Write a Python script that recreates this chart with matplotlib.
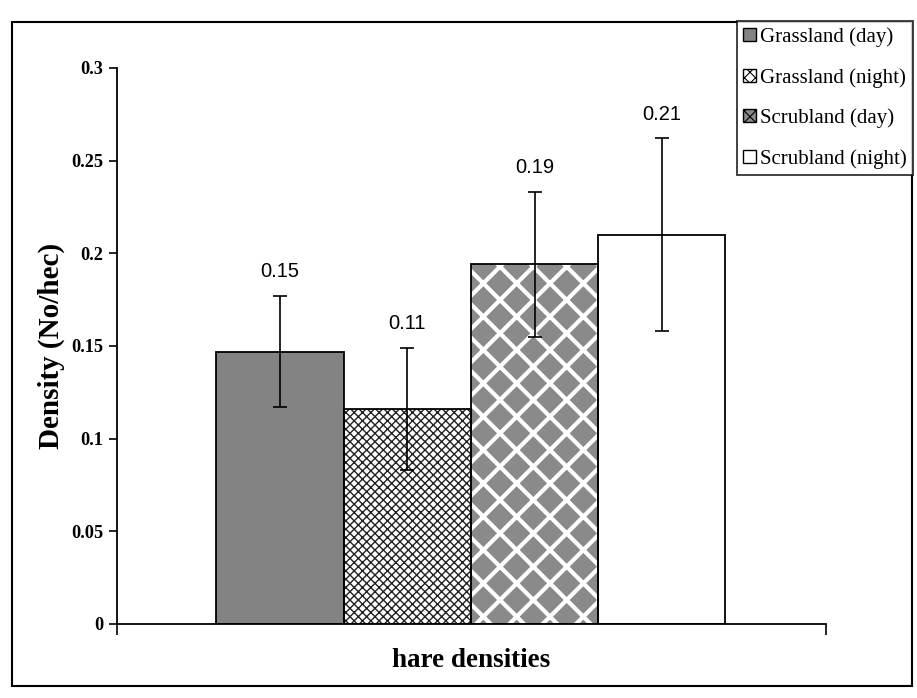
import matplotlib
matplotlib.use('Agg')
import matplotlib.pyplot as plt
from matplotlib.patches import Rectangle

series = ['Grassland (day)', 'Grassland (night)', 'Scrubland (day)', 'Scrubland (night)']
density = [0.147, 0.116, 0.194, 0.21]
errors = [0.030, 0.033, 0.039, 0.052]
value_labels = ['0.15', '0.11', '0.19', '0.21']
yticks = [0, 0.05, 0.1, 0.15, 0.2, 0.25, 0.3]
ytick_labels = ['0', '0.05', '0.1', '0.15', '0.2', '0.25', '0.3']

W, H = 917, 698
fig = plt.figure(figsize=(W / 100, H / 100), dpi=100)
ax = fig.add_axes([117 / W, 1 - 624 / H, (826 - 117) / W, (624 - 68) / H])

pos = list(range(len(series)))
styles = [
    dict(color='#838383', hatch=None, hcolor=None, lw=1.0),
    dict(color='white', hatch='xxxx', hcolor='#222222', lw=1.0),
    dict(color='#8a8a8a', hatch='x', hcolor='white', lw=3.0),
    dict(color='white', hatch=None, hcolor=None, lw=1.0),
]

for p, v, s in zip(pos, density, styles):
    plt.rcParams['hatch.linewidth'] = s['lw']
    if s['hatch']:
        ax.bar(p, v, width=1.0, color=s['color'], edgecolor=s['hcolor'],
               hatch=s['hatch'], linewidth=0, zorder=2)
    else:
        ax.bar(p, v, width=1.0, color=s['color'], linewidth=0, zorder=2)
    ax.bar(p, v, width=1.0, fill=False, edgecolor='black', linewidth=1.3, zorder=3)

ax.errorbar(pos, density, yerr=errors, fmt='none', ecolor='black',
            elinewidth=1.2, capsize=5, capthick=1.2, zorder=4)

for p, v, e, lab in zip(pos, density, errors, value_labels):
    ax.text(p, v + e + 0.008, lab, ha='center', va='bottom',
            fontsize=14.5, family='Liberation Sans')

ax.set_xlim(-1.28, 4.29)
ax.set_ylim(0, 0.3)
ax.set_yticks(yticks)
ax.set_yticklabels(ytick_labels, family='Liberation Serif', fontweight='bold', fontsize=13.2)
ax.set_xticks([-1.28, 4.29])
ax.set_xticklabels(['', ''])
ax.tick_params(axis='y', direction='out', length=6, width=1.2, pad=4)
ax.tick_params(axis='x', direction='out', length=8, width=1.2)
ax.spines['top'].set_visible(False)
ax.spines['right'].set_visible(False)
ax.spines['left'].set_linewidth(1.3)
ax.spines['bottom'].set_linewidth(1.3)

ax.set_ylabel('Density (No/hec)', family='Liberation Serif', fontweight='bold',
              fontsize=21, labelpad=4)
ax.set_xlabel('hare densities', family='Liberation Serif', fontweight='bold',
              fontsize=19.5, labelpad=6)

# legend handles
handles = []
for s in styles:
    plt.rcParams['hatch.linewidth'] = 0.8
    if s['hatch']:
        handles.append(Rectangle((0, 0), 1, 1, facecolor=s['color'], edgecolor='black',
                                 hatch='xxx', linewidth=1))
    else:
        handles.append(Rectangle((0, 0), 1, 1, facecolor=s['color'], edgecolor='black',
                                 linewidth=1))
leg = fig.legend(handles, series, loc='upper right',
                 bbox_to_anchor=(913 / W, 1 - 21 / H),
                 prop={'family': 'Liberation Serif', 'size': 15},
                 frameon=True, fancybox=False, edgecolor='black',
                 handlelength=0.6, handleheight=0.6, handletextpad=0.2,
                 labelspacing=1.0, borderpad=0.3, borderaxespad=0)
leg.get_frame().set_linewidth(1.3)

# outer chart border
fig.patches.append(Rectangle((12 / W, 1 - 686 / H), (912 - 12) / W, (686 - 22) / H,
                             transform=fig.transFigure, fill=False,
                             edgecolor='black', linewidth=1.5))

fig.savefig('out.png', dpi=100)
